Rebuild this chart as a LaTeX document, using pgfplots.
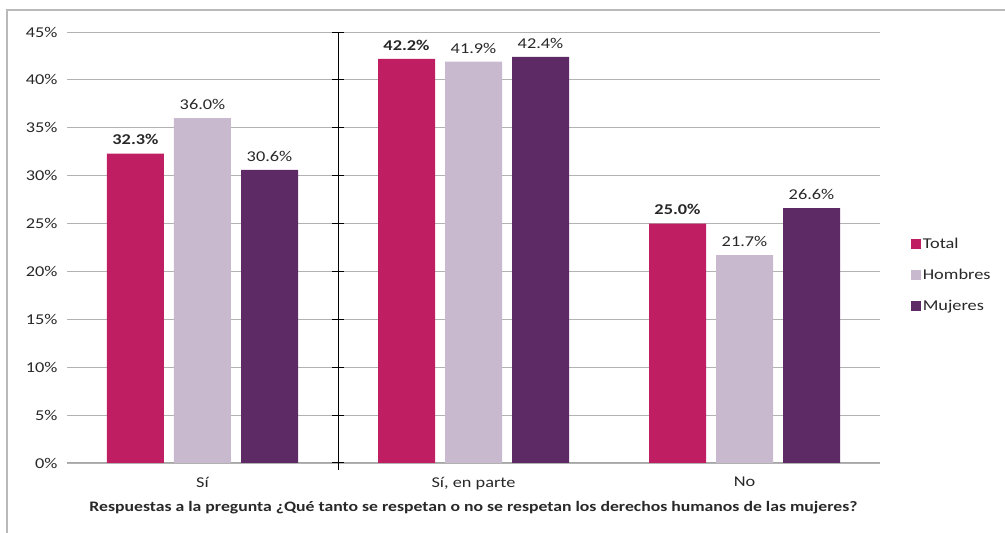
\documentclass[border=0pt]{standalone}
\usepackage{pgfplots}
\pgfplotsset{compat=1.18}
\usepackage{fontspec}
\setmainfont[FakeStretch=1.22]{Carlito}
\definecolor{ctotal}{RGB}{192,30,98}
\definecolor{chom}{RGB}{201,185,206}
\definecolor{cmuj}{RGB}{94,42,102}
\definecolor{ctxt}{RGB}{40,40,40}
\begin{document}
\begin{tikzpicture}
\useasboundingbox (-67pt,-70pt) rectangle (938pt,463pt);
\draw[gray!55, line width=1.5pt] (-60pt,-70pt) -- (-60pt,453pt) -- (938pt,453pt);
\begin{axis}[
  scale only axis, width=813pt, height=431pt,
  anchor=south west, at={(0pt,0pt)},
  ybar=10pt, bar width=57pt,
  xmin=-0.5, xmax=2.5, ymin=0, ymax=45,
  xtick={0,1,2}, xticklabels={Sí, {Sí, en parte}, No},
  ytick={0,5,...,45},
  yticklabel={\pgfmathprintnumber{\tick}\%},
  /pgf/number format/assume math mode=true,
  axis x line*=bottom, axis y line*=left,
  y axis line style={draw=none},
  x axis line style={gray!70, line width=1pt},
  ytick style={draw=none},
  xtick style={draw=none},
  extra x ticks={-0.5,0.5,1.5,2.5},
  extra x tick labels={},
  extra x tick style={tick style={draw=gray!70, line width=1pt}, major tick length=7pt, tick align=outside, xticklabel=\empty},
  ymajorgrids, grid style={gray!60, line width=0.9pt},
  ticklabel style={font=\fontsize{15}{18}\selectfont, text=ctxt},
  yticklabel style={xshift=-6pt},
  xticklabel style={yshift=-6pt},
  xlabel={\bfseries Respuestas a la pregunta ¿Qué tanto se respetan o no se respetan los derechos humanos de las mujeres?},
  xlabel style={font=\fontsize{14.5}{17}\selectfont, text=ctxt, yshift=6pt},
  nodes near coords={\pgfmathprintnumber[fixed,fixed zerofill,precision=1]{\pgfplotspointmeta}\%},
  nodes near coords style={font=\fontsize{15}{18}\selectfont, text=ctxt, yshift=5pt},
  legend style={at={(rel axis cs:1.034,0.436)}, anchor=west, draw=none, fill=none,
    font=\fontsize{15}{18}\selectfont, text=ctxt, row sep=15pt,
    /tikz/every even column/.append style={column sep=2pt}},
  legend cell align=left,
  legend image code/.code={\fill[#1] (0pt,-5pt) rectangle (10pt,5pt);},
  clip=false,
]
\addplot[fill=ctotal, draw=none, every node near coord/.append style={font=\fontsize{15}{18}\selectfont\bfseries}] coordinates {(0,32.3) (1,42.2) (2,25.0)};
\addplot[fill=chom, draw=none] coordinates {(0,36.0) (1,41.9) (2,21.7)};
\addplot[fill=cmuj, draw=none] coordinates {(0,30.6) (1,42.4) (2,26.6)};
\legend{Total, Hombres, Mujeres}
\draw[black, line width=1pt] ([yshift=-7pt]axis cs:0.5,0) -- (axis cs:0.5,45);
\pgfplotsinvokeforeach{0,5,10,15,20,25,30,35,40,45}{
  \draw[black, line width=1pt] ([xshift=-6pt]axis cs:0.5,#1) -- ([xshift=6pt]axis cs:0.5,#1);
}
\end{axis}
\end{tikzpicture}
\end{document}
